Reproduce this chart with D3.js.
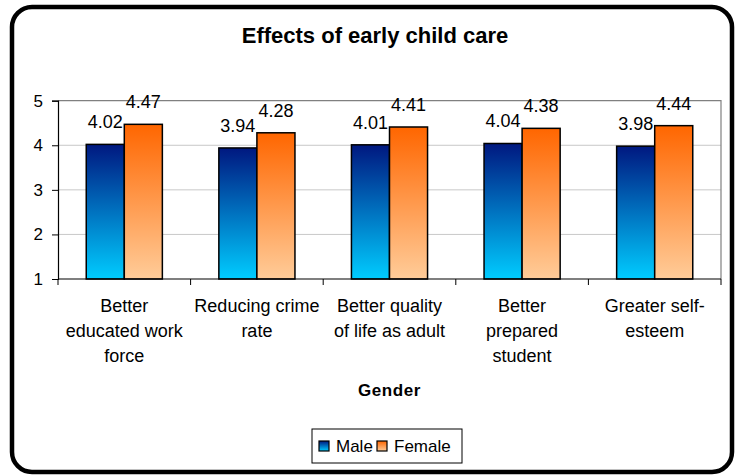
<!DOCTYPE html>
<html>
<head>
<meta charset="utf-8">
<script src="https://cdn.jsdelivr.net/npm/d3@7"></script>
<style>
  body { margin: 0; background: #fff; }
  svg { display: block; font-family: "Liberation Sans", Arial, sans-serif; }
</style>
</head>
<body>
<div id="chart"></div>
<script>
// ---------------- DATA ----------------
const categories = [
  "Better educated work force",
  "Reducing crime rate",
  "Better quality of life as adult",
  "Better prepared student",
  "Greater self-esteem"
];
// how each category label wraps under the axis
const categoryLines = [
  ["Better", "educated work", "force"],
  ["Reducing crime", "rate"],
  ["Better quality", "of life as adult"],
  ["Better", "prepared", "student"],
  ["Greater self-", "esteem"]
];
const seriesNames = ["Male", "Female"];
const maleValues = [4.02, 3.94, 4.01, 4.04, 3.98];
const femaleValues = [4.47, 4.28, 4.41, 4.38, 4.44];
const yTicks = [1, 2, 3, 4, 5];

const width = 735, height = 475;
const margin = {top: 100.7, right: 14, bottom: 196, left: 58};

const svg = d3.select("#chart").append("svg")
  .attr("width", width)
  .attr("height", height);

// gradients for the bars (dark at top, light at bottom)
const defs = svg.append("defs");
const grads = {
  Male: ["#001880", "#00ccff"],
  Female: ["#ff6600", "#ffcc99"]
};
Object.keys(grads).forEach(k => {
  const g = defs.append("linearGradient")
    .attr("id", "grad-" + k)
    .attr("x1", 0).attr("y1", 0).attr("x2", 0).attr("y2", 1);
  g.append("stop").attr("offset", "0%").attr("stop-color", grads[k][0]);
  g.append("stop").attr("offset", "100%").attr("stop-color", grads[k][1]);
});

// outer rounded frame
svg.append("rect")
  .attr("x", 12).attr("y", 7)
  .attr("width", 720).attr("height", 465)
  .attr("rx", 20).attr("ry", 20)
  .attr("fill", "#fff")
  .attr("stroke", "#000")
  .attr("stroke-width", 4.5);

// scales
const x0 = d3.scaleBand()
  .domain(categories)
  .range([margin.left, width - margin.right]);

const barW = x0.bandwidth() * 0.287;
const x1 = d3.scaleBand()
  .domain(seriesNames)
  .range([x0.bandwidth() / 2 - barW, x0.bandwidth() / 2 + barW]);

const y = d3.scaleLinear()
  .domain([1, 5])
  .range([height - margin.bottom, margin.top]);

const plotL = margin.left, plotR = width - margin.right;
const plotT = margin.top, plotB = height - margin.bottom;

// gridlines
svg.append("g")
  .selectAll("line")
  .data(yTicks.filter(d => d > 1 && d < 5))
  .join("line")
  .attr("x1", plotL).attr("x2", plotR)
  .attr("y1", d => y(d)).attr("y2", d => y(d))
  .attr("stroke", "#c8c8c8")
  .attr("stroke-width", 1);

// gray top and right border of the plot area
svg.append("path")
  .attr("d", `M${plotL},${plotT}H${plotR}V${plotB}`)
  .attr("fill", "none")
  .attr("stroke", "#808080")
  .attr("stroke-width", 1.2);

// bars
const data = categories.map((c, i) => ({
  cat: c,
  values: [
    {series: "Male", value: maleValues[i]},
    {series: "Female", value: femaleValues[i]}
  ]
}));

const groups = svg.append("g")
  .selectAll("g")
  .data(data)
  .join("g")
  .attr("transform", d => `translate(${x0(d.cat)},0)`);

groups.selectAll("rect")
  .data(d => d.values)
  .join("rect")
  .attr("x", d => x1(d.series))
  .attr("y", d => y(d.value))
  .attr("width", x1.bandwidth())
  .attr("height", d => y(1) - y(d.value))
  .attr("fill", d => `url(#grad-${d.series})`)
  .attr("stroke", "#000")
  .attr("stroke-width", 1.5);

groups.selectAll("text")
  .data(d => d.values)
  .join("text")
  .attr("x", d => x1(d.series) + x1.bandwidth() / 2)
  .attr("y", d => y(d.value) - 16)
  .attr("text-anchor", "middle")
  .style("font-size", "18px")
  .style("fill", "#000")
  .text(d => d.value.toFixed(2));

// y axis
const yAxis = svg.append("g")
  .attr("transform", `translate(${plotL},0)`)
  .call(d3.axisLeft(y).tickValues(yTicks).tickSize(6).tickPadding(9).tickFormat(d3.format("d")));
yAxis.select(".domain").attr("stroke", "#000").attr("stroke-width", 1.2);
yAxis.selectAll(".tick line").attr("stroke", "#000");
yAxis.selectAll("text")
  .style("font-size", "17px")
  .style("font-family", "'Liberation Sans', Arial, sans-serif")
  .attr("fill", "#000");

// x axis: tick marks at band boundaries
const xAxisG = svg.append("g");
xAxisG.append("line")
  .attr("x1", plotL).attr("x2", plotR)
  .attr("y1", plotB).attr("y2", plotB)
  .attr("stroke", "#000").attr("stroke-width", 1.2);
const bounds = categories.map(c => x0(c)).concat([plotR]);
xAxisG.selectAll(".xt")
  .data(bounds)
  .join("line")
  .attr("class", "xt")
  .attr("x1", d => d).attr("x2", d => d)
  .attr("y1", plotB).attr("y2", plotB + 6)
  .attr("stroke", "#000");

// category labels (wrapped)
xAxisG.selectAll(".cat")
  .data(categories)
  .join("text")
  .attr("class", "cat")
  .attr("text-anchor", "middle")
  .style("font-size", "18px")
  .attr("fill", "#000")
  .each(function(d, i) {
    const t = d3.select(this);
    categoryLines[i].forEach((line, j) => {
      t.append("tspan")
        .attr("x", x0(d) + x0.bandwidth() / 2)
        .attr("y", plotB + 33 + j * 25)
        .text(line);
    });
  });

// axis title
svg.append("text")
  .attr("x", (plotL + plotR) / 2)
  .attr("y", 396)
  .attr("text-anchor", "middle")
  .style("font-size", "17px")
  .style("font-weight", "bold")
  .style("letter-spacing", "0.6px")
  .text("Gender");

// chart title
svg.append("text")
  .attr("x", 375)
  .attr("y", 43)
  .attr("text-anchor", "middle")
  .style("font-size", "22px")
  .style("font-weight", "bold")
  .text("Effects of early child care");

// legend
const legend = svg.append("g");
legend.append("rect")
  .attr("x", 312).attr("y", 429)
  .attr("width", 150).attr("height", 34)
  .attr("fill", "#fff")
  .attr("stroke", "#000")
  .attr("stroke-width", 1);

const legendX = [319, 377];
seriesNames.forEach((s, i) => {
  legend.append("rect")
    .attr("x", legendX[i]).attr("y", 441)
    .attr("width", 10).attr("height", 10)
    .attr("fill", `url(#grad-${s})`)
    .attr("stroke", "#000")
    .attr("stroke-width", 1.2);
  legend.append("text")
    .attr("x", legendX[i] + 17)
    .attr("y", 452)
    .style("font-size", "17px")
    .text(s);
});
</script>
</body>
</html>
